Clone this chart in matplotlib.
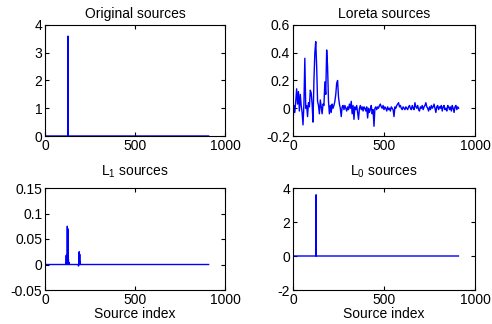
import numpy as np
import matplotlib
matplotlib.use("Agg")
import matplotlib.pyplot as plt
from matplotlib.ticker import FuncFormatter

plt.rcParams['font.family'] = ['Liberation Sans', 'DejaVu Sans']
plt.rcParams['mathtext.default'] = 'regular'
plt.rcParams['font.size'] = 10

n_src = 910
src_idx = np.arange(n_src)

# original sources: single active source
orig_pos = [128]
orig_val = [3.6]

# L1 solution: a few small spikes
l1_pos = [118, 120, 124, 127, 130, 133, 186, 190, 193, 196]
l1_val = [0.018, 0.005, 0.075, 0.07, 0.01, 0.004, -0.003, 0.025, 0.02, 0.004]

# L0 solution
l0_pos = [127]
l0_val = [3.6]

# Loreta solution, sampled every 5 sources
loreta_step = 5
loreta_val = [
    -0.10, 0.02, -0.03, 0.05, 0.14, 0.03, 0.12, -0.02, 0.10, 0.02,
    -0.03, -0.12, 0.03, 0.36, 0.00, 0.02, -0.06, 0.04, 0.01, 0.13,
    0.11, 0.03, -0.10, 0.20, 0.40, 0.48, 0.30, 0.05, 0.02, -0.04,
    0.06, 0.01, -0.04, 0.03, 0.02, 0.19, 0.10, 0.42, 0.30, 0.05,
    -0.04, 0.02, -0.03, 0.03, 0.00, 0.02, 0.05, 0.10, 0.18, 0.20,
    0.08, 0.03, 0.00, -0.06, 0.01, 0.02, -0.01, 0.02, 0.00, -0.02,
    0.01, -0.01, 0.03, 0.00, 0.05, -0.04, 0.02, -0.08, 0.01, -0.01,
    0.02, -0.03, -0.08, 0.00, 0.02, -0.01, 0.01, -0.02, 0.01, 0.00,
    -0.02, 0.01, -0.07, 0.00, -0.03, -0.01, 0.02, -0.04, -0.01, -0.13,
    0.00, 0.01, -0.01, 0.01, 0.00, 0.02, 0.03, 0.01, 0.00, 0.02,
    -0.01, 0.01, 0.00, -0.02, 0.01, -0.01, 0.00, -0.02, 0.01, 0.00,
    -0.01, -0.06, 0.01, 0.00, 0.02, 0.03, 0.04, 0.01, 0.02, 0.00,
    -0.01, 0.01, 0.00, -0.01, 0.01, 0.00, -0.01, 0.01, 0.02, 0.00,
    -0.01, 0.02, 0.00, -0.01, 0.04, 0.01, 0.00, 0.02, -0.01, -0.02,
    0.01, 0.00, 0.02, -0.01, 0.01, 0.02, 0.04, 0.01, 0.00, -0.02,
    0.01, -0.01, 0.02, 0.00, 0.01, 0.03, 0.00, -0.03, 0.01, 0.02,
    -0.01, 0.01, 0.00, 0.02, -0.02, 0.01, 0.02, -0.01, 0.00, -0.02,
    0.02, 0.01, -0.01, 0.01, -0.02, 0.02, 0.00, -0.03, 0.01, 0.02,
    -0.01, 0.01, 0.00,
]


def spikes(pos, val):
    y = np.zeros(n_src)
    y[pos] = val
    return y


def num(v, p):
    return '%g' % round(v, 4)


fig = plt.figure(figsize=(4.92, 3.24), dpi=100)
W, H = 492.0, 324.0
boxes = [(45, 25, 225, 136), (293, 25, 475, 136),
         (45, 188, 225, 290), (293, 188, 475, 290)]
axes = [fig.add_axes([l / W, 1 - b / H, (r - l) / W, (b - t) / H]) for l, t, r, b in boxes]

loreta_x = np.arange(len(loreta_val)) * loreta_step
series = [
    (src_idx, spikes(orig_pos, orig_val), 'Original sources', (0, 4), [0, 1, 2, 3, 4]),
    (loreta_x, loreta_val, 'Loreta sources', (-0.2, 0.6), [-0.2, 0, 0.2, 0.4, 0.6]),
    (src_idx, spikes(l1_pos, l1_val), 'L$_1$ sources', (-0.05, 0.15), [-0.05, 0, 0.05, 0.1, 0.15]),
    (src_idx, spikes(l0_pos, l0_val), 'L$_0$ sources', (-2, 4), [-2, 0, 2, 4]),
]

for i, (ax, (x, y, title, ylim, yt)) in enumerate(zip(axes, series)):
    ax.plot(x, y, color='#0000ff', lw=1)
    ax.set_xlim(0, 1000)
    ax.set_ylim(*ylim)
    ax.set_xticks([0, 500, 1000])
    ax.set_yticks(yt)
    ax.yaxis.set_major_formatter(FuncFormatter(num))
    ax.tick_params(direction='in', top=True, right=True, length=3, labelsize=10, pad=2)
    for s in ax.spines.values():
        s.set_linewidth(0.8)
    if i < 2:
        ax.set_title(title, fontsize=10, pad=5)
    else:
        ax.set_title(title, fontsize=10, pad=9)
        ax.set_xlabel('Source index', fontsize=10, labelpad=0)

fig.savefig('out.png', dpi=100)
